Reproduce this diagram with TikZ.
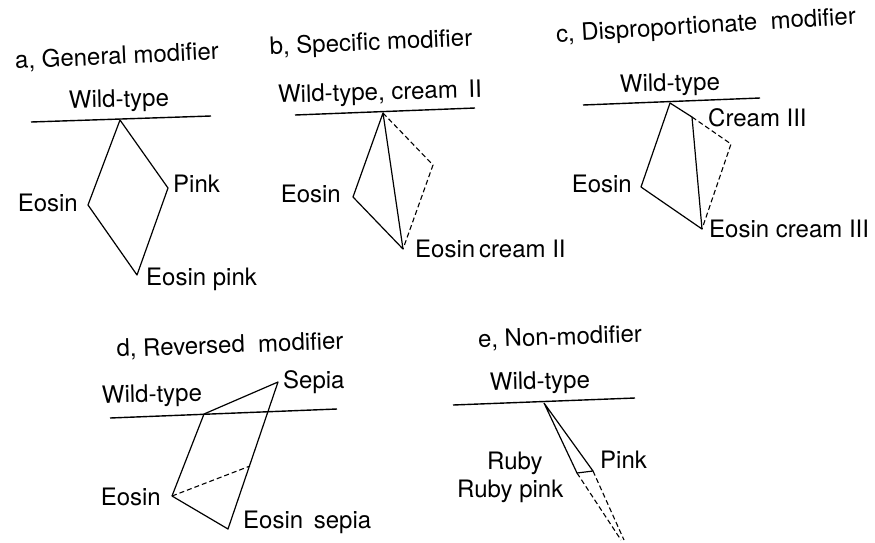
\documentclass[tikz,border=0pt]{standalone}
\usepackage{fontspec}
\setmainfont{TeX Gyre Heros}
\begin{document}
\begin{tikzpicture}[x=1pt,y=-1pt,
  lab/.style={inner sep=0pt,font=\fontsize{24}{28}\selectfont},
  edge/.style={line width=1.2pt,line join=round},
  dedge/.style={line width=1.1pt,dash pattern=on 5pt off 3pt},
  axis/.style={line width=1.4pt}]
\useasboundingbox (0,0) rectangle (875,542);
% ---------- a
\node[lab,rotate=2.7] (ta) at (117,57) {a, General modifier};
\node[lab,rotate=1.5] (wa) at (119,101) {Wild-type};
\coordinate (aL1) at (31,122); \coordinate (aL2) at (211,116);
\draw[axis] (aL1) -- (aL2);
\coordinate (aW) at (120,120);
\coordinate (aE) at (88,205);
\coordinate (aP) at (168,188);
\coordinate (aEP) at (137,275);
\draw[edge] (aW) -- (aE) -- (aEP) -- (aP) -- cycle;
\node[lab,anchor=base east] (laE) at (78,211) {Eosin};
\node[lab,anchor=base west] (laP) at (173,192) {Pink};
\node[lab,anchor=base west] (laEP) at (146,285) {Eosin pink};
% ---------- b
\node[lab,rotate=2.5] (tb) at (371,44) {b, Specific\ modifier};
\node[lab,rotate=1.5] (wb) at (380,94) {Wild-type, cream\ \,II};
\coordinate (bL1) at (295,115); \coordinate (bL2) at (475,108);
\draw[axis] (bL1) -- (bL2);
\coordinate (bW) at (383,113);
\coordinate (bE) at (353,197);
\coordinate (bEC) at (403,249);
\coordinate (bD) at (433,165);
\draw[edge] (bW) -- (bE) -- (bEC) -- cycle;
\draw[dedge] (bW) -- (bD) -- (bEC);
\node[lab,anchor=base east] (lbE) at (341,202) {Eosin};
\node[lab,anchor=base west] (lbEC) at (415,257) {Eosin\,cream II};
% ---------- c
\node[lab,rotate=3.5] (tc) at (706,27) {c, Disproportionate\ \ modifier};
\node[lab,rotate=1.5] (wc) at (670,85) {Wild-type};
\coordinate (cL1) at (583,105); \coordinate (cL2) at (760,98);
\draw[axis] (cL1) -- (cL2);
\coordinate (cW) at (670,103);
\coordinate (cC) at (692,117);
\coordinate (cD) at (731,144);
\coordinate (cE) at (641,187);
\coordinate (cEC) at (702,229);
\draw[edge] (cC) -- (cW) -- (cE) -- (cEC) -- cycle;
\draw[dedge] (cC) -- (cD) -- (cEC);
\node[lab,anchor=base west] (lcC) at (708,126) {Cream III};
\node[lab,anchor=base east] (lcE) at (632,192) {Eosin};
\node[lab,anchor=base west] (lcEC) at (709,237) {Eosin cream III};
% ---------- d
\node[lab,rotate=2] (td) at (230,346) {d, Reversed\ \ modifier};
\node[lab,rotate=1.5] (wd) at (152,396) {Wild-type};
\coordinate (dL1) at (110,418); \coordinate (dL2) at (337,409);
\draw[axis] (dL1) -- (dL2);
\coordinate (dW) at (204,414);
\coordinate (dS) at (278,382);
\coordinate (dE) at (172,496);
\coordinate (dES) at (228,529);
\coordinate (dM) at (250,466);
\draw[edge] (dW) -- (dS) -- (dES) -- (dE) -- cycle;
\draw[dedge] (dE) -- (dM);
\node[lab,anchor=base west] (ldS) at (283,388) {Sepia};
\node[lab,anchor=base east] (ldE) at (161,505) {Eosin};
\node[lab,anchor=base west] (ldES) at (243,528) {Eosin\ \,sepia};
% ---------- e
\node[lab,rotate=2] (te) at (560,338) {e, Non-modifier};
\node[lab,rotate=1.5] (we) at (540,383) {Wild-type};
\coordinate (eL1) at (453,405); \coordinate (eL2) at (635,398);
\draw[axis] (eL1) -- (eL2);
\coordinate (eW) at (544,403);
\coordinate (eR) at (577,473);
\coordinate (eP) at (593,471);
\coordinate (eF1) at (621,540);
\coordinate (eF2) at (624,540);
\draw[edge] (eW) -- (eR) -- (eP) -- cycle;
\draw[dedge] (eR) -- (eF1);
\draw[dedge] (eP) -- (eF2);
\node[lab,anchor=base west] (leR) at (487,469) {Ruby};
\node[lab,anchor=base west] (leRP) at (457,497) {Ruby pink};
\node[lab,anchor=base west] (leP) at (600,468) {Pink};
\end{tikzpicture}
\end{document}
